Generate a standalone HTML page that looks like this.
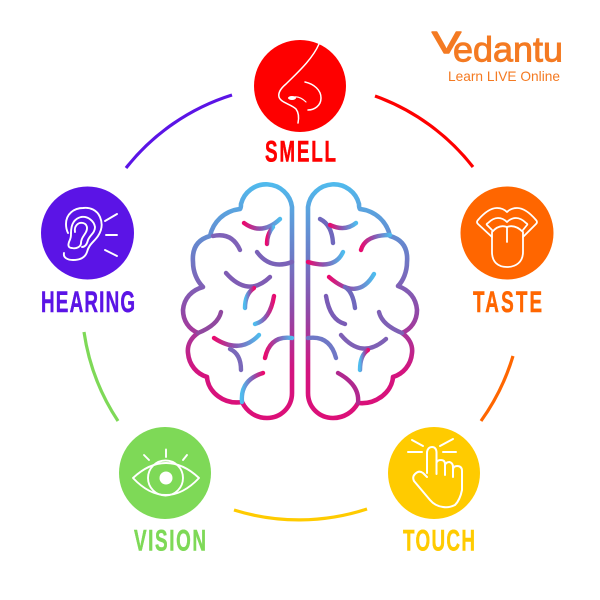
<!DOCTYPE html>
<html><head><meta charset="utf-8"><style>html,body{margin:0;padding:0;background:#fff}svg{display:block}text{font-family:"Liberation Sans",sans-serif}</style></head><body>
<svg width="600" height="600" viewBox="0 0 600 600" xmlns="http://www.w3.org/2000/svg">
<defs>
<linearGradient id="v" gradientUnits="userSpaceOnUse" x1="0" y1="181" x2="0" y2="418"><stop offset="0" stop-color="#4fbcee"/><stop offset=".3" stop-color="#6a7fc9"/><stop offset=".55" stop-color="#8f4aa8"/><stop offset=".8" stop-color="#d3147f"/><stop offset="1" stop-color="#dc0f78"/></linearGradient>
<linearGradient id="pb"><stop offset="0" stop-color="#ea0a6e"/><stop offset=".45" stop-color="#8a55b0"/><stop offset="1" stop-color="#4fbcee"/></linearGradient>
<linearGradient id="bp"><stop offset="0" stop-color="#4fbcee"/><stop offset=".55" stop-color="#8a55b0"/><stop offset="1" stop-color="#ea0a6e"/></linearGradient>
</defs>
<g fill="none" stroke-width="3.2" stroke-linecap="butt">
<path d="M126 168A218 218 0 0 1 232 95" stroke="#5b14e6"/>
<path d="M375 96A218 218 0 0 1 473 167" stroke="#fe0000"/>
<path d="M513 356A218 218 0 0 1 481 421" stroke="#ff6600"/>
<path d="M367 509A218 218 0 0 1 234 510" stroke="#ffcb00"/>
<path d="M118 421A218 218 0 0 1 84 332" stroke="#7ed957"/>
</g>
<circle cx="300" cy="86" r="46" fill="#fe0000"/>
<circle cx="507" cy="233" r="46.5" fill="#ff6600"/>
<circle cx="87.5" cy="233" r="46.5" fill="#5b14e6"/>
<circle cx="165" cy="473" r="46" fill="#7ed957"/>
<circle cx="434" cy="473" r="46" fill="#ffcb00"/>
<g fill="none" stroke="url(#v)" stroke-width="4.6" stroke-linecap="round" stroke-linejoin="round">
<path d="M292 393V207A26 26 0 0 0 241 204Q241 208 240 209C224 211 213 222 210 236C196 240 192 250 193 262C193 272 197 281 203 287C192 290 184 298 183 310C183 321 189 329 198 333C191 338 187 345 188 353C189 365 197 374 207 377C208 392 224 405 242 402C247 412 256 418 267 418C281 418 292 407 292 393Z"/>
<path d="M308 393V207A26 26 0 0 1 359 204Q359 208 360 209C376 211 387 222 390 236C404 240 408 250 407 262C407 272 403 281 398 286C409 290 416 298 417 310C417 321 411 329 402 333C409 338 413 345 412 353C411 365 403 374 393 377C392 392 376 405 358 403C353 412 344 418 333 418C319 418 308 407 308 393Z"/>
</g>
<g fill="none" stroke-width="4.4" stroke-linecap="round">
<path d="M244 223Q262 236 280 219" stroke="url(#pb)"/>
<path d="M267 244Q267 234 273 227" stroke="url(#pb)"/>
<path d="M213 236Q232 232 240 250" stroke="#7f62b8"/>
<path d="M257 252Q270 270 292 262" stroke="#7a62b8"/>
<path d="M226 273Q248 298 270 277" stroke="#7f5cb4"/>
<path d="M245 308Q245 294 254 288" stroke="url(#bp)"/>
<path d="M274 296Q270 320 255 324" stroke="url(#bp)"/>
<path d="M221 312Q218 325 198 333" stroke="#90489f"/>
<path d="M214 338Q240 355 259 335" stroke="url(#pb)"/>
<path d="M230 349Q241 354 241 370" stroke="#7a68ba"/>
<path d="M265 358Q270 335 292 338" stroke="url(#pb)"/>
<path d="M263 373Q240 380 242 402" stroke="url(#bp)"/>
<path d="M320 219Q332 225 333 243" stroke="#7068bd"/>
<path d="M330 225Q345 232 356 223" stroke="url(#pb)"/>
<path d="M361 250Q365 235 390 235" stroke="url(#pb)"/>
<path d="M308 262Q335 270 343 252" stroke="url(#pb)"/>
<path d="M329 277Q358 302 374 274" stroke="url(#pb)"/>
<path d="M345 287Q353 292 355 308" stroke="#7068bd"/>
<path d="M326 296Q330 320 345 324" stroke="#7a5cb6"/>
<path d="M379 312Q382 325 402 333" stroke="#7e60b5"/>
<path d="M341 335Q362 360 386 339" stroke="#7e60b5"/>
<path d="M368 350Q360 355 360 370" stroke="url(#bp)"/>
<path d="M308 338Q330 335 336 358" stroke="#6f78c6"/>
<path d="M338 373Q360 385 358 403" stroke="#b0288f"/>
</g>
<!-- nose -->
<g fill="none" stroke="#fff" stroke-linecap="round" stroke-linejoin="round">
<path d="M319 44C312 60 296 74 286 84C280 89 278 93 279 97C281 103 291 104 296 109C299 113 299 118 298 123" stroke-width="1.5"/>
<path d="M305 82C314 84 321 90 321 98C321 106 314 110 308 110" stroke-width="1.5"/>
<path d="M294 97Q300 96 306 102" stroke-width="1.2"/>
<ellipse cx="292" cy="98" rx="4" ry="2" fill="#fff" stroke="none"/>
</g>
<!-- tongue -->
<g fill="none" stroke="#fff" stroke-width="1.8" stroke-linecap="round" stroke-linejoin="round">
<path d="M492 237L478 224Q476 222 478 220C484 213 490 208 497 208Q503 208 507 212Q511 208 517 208C524 208 530 213 536 220Q538 222 536 224L523 237"/>
<path d="M492 230L487 225Q486 224 488 223C491 220 494 218 498 218Q503 218 507 222Q511 218 516 218C520 218 523 220 526 223Q528 224 527 225L523 230"/>
<path d="M492 232Q499 224 507 227Q515 224 523 232V252C523 262 516 267 507 267C498 267 492 262 492 252Z"/>
<path d="M507 227V242"/>
</g>
<!-- ear -->
<g fill="none" stroke="#fff" stroke-width="1.9" stroke-linecap="round" stroke-linejoin="round">
<path d="M64 253C63 258 68 260 73 260C80 260 85 258 87 252C89 244 94 242 98 236C102 230 103 224 100 217C97 210 90 207 83 208C74 208 66 214 66 224C66 228 67 231 68 233"/>
<path d="M71 233C71 226 73 219 81 217C88 216 94 221 95 227C95 233 90 235 88 240C87 244 85 247 82 247"/>
<path d="M75 232C74 226 78 222 83 223C87 224 88 228 86 232C84 236 81 238 81 243C81 247 76 249 72 248C68 248 68 245 69 242C71 238 71 236 71 233"/>
<path d="M105 221L117 214M106 235H117M105 250L117 256"/>
</g>
<!-- eye -->
<g fill="none" stroke="#fff" stroke-width="1.9" stroke-linecap="round" stroke-linejoin="round">
<path d="M133 478Q149 463 166 463Q183 463 199 478Q183 495 166 495Q149 495 133 478Z"/>
<circle cx="165.500" cy="478" r="17.500"/>
<path d="M166 449.500V457M144 455L149 460M187 455L183 460"/>
</g>
<circle cx="166" cy="478" r="6.500" fill="#fff"/>
<!-- hand -->
<g fill="none" stroke="#fff" stroke-width="2" stroke-linecap="round" stroke-linejoin="round">
<path d="M427 473V452Q428 447 432 447Q436 447 436.500 452V474"/>
<path d="M436.500 463Q437 460 441 460Q445 460 445 464V475"/>
<path d="M445 465Q446 462 449.500 462Q453 463 453 467V477"/>
<path d="M453 470Q453 466 457 466Q462 466 462 471V490Q460 500 455 505Q449 508 443 507Q435 506 430 500L414 481Q412 477 415 474Q419 470 423 473L427 477"/>
<path d="M412 440L423 446M408 452H422M453 439L440 446M456 452H443"/>
</g>
<!-- labels -->
<g font-weight="700" font-size="29.500" stroke-width=".5">
<text transform="translate(265 161.500) scale(.64 1)" textLength="111" fill="#fe0000" stroke="#fe0000">SMELL</text>
<text transform="translate(473 312) scale(.64 1)" textLength="108" fill="#ff6600" stroke="#ff6600">TASTE</text>
<text transform="translate(41 312) scale(.64 1)" textLength="147" fill="#5b14e6" stroke="#5b14e6">HEARING</text>
<text transform="translate(134 550.500) scale(.64 1)" textLength="112.500" fill="#7ed957" stroke="#7ed957">VISION</text>
<text transform="translate(403 550.500) scale(.64 1)" textLength="112.500" fill="#ffcb00" stroke="#ffcb00">TOUCH</text>
</g>
<!-- logo -->
<text x="432" y="53" font-size="31" fill="#f47a22" stroke="#f47a22" stroke-width="1.400" stroke-linejoin="round" textLength="29" lengthAdjust="spacingAndGlyphs">V</text>
<text x="453" y="61.500" font-size="35" fill="#f47a22" stroke="#f47a22" stroke-width=".9" textLength="110" lengthAdjust="spacingAndGlyphs">edantu</text>
<text x="448" y="81" font-size="14" fill="#f47a22" textLength="112" lengthAdjust="spacingAndGlyphs">Learn LIVE Online</text>
</svg>
</body></html>
